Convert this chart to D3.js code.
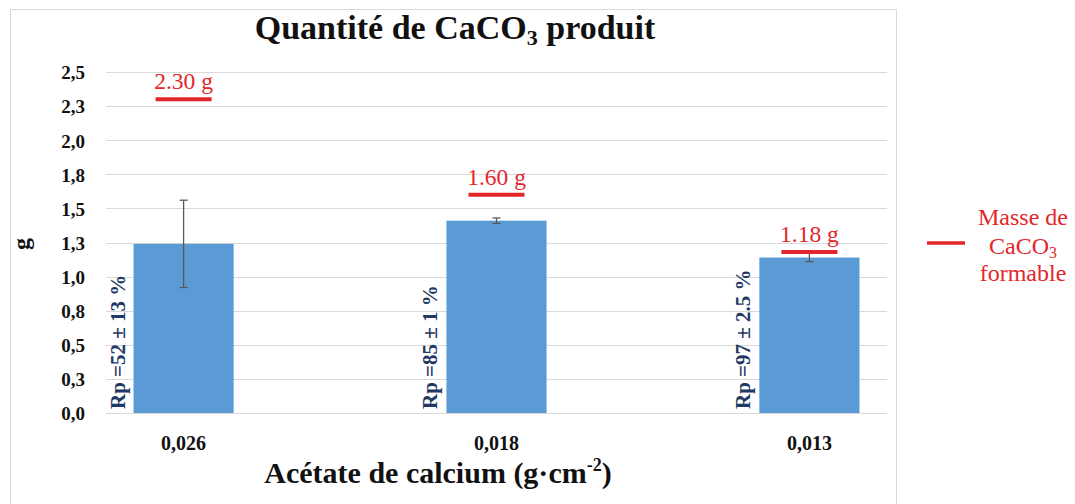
<!DOCTYPE html>
<html>
<head>
<meta charset="utf-8">
<script src="https://cdn.jsdelivr.net/npm/d3@7/dist/d3.min.js"></script>
<style>
  html, body { margin: 0; padding: 0; background: #fff; }
  svg { display: block; }
</style>
</head>
<body>
<svg id="chart" width="1075" height="504"></svg>
<script>
// Calcium acetate loading (x categories)
const categories = ["0,026", "0,018", "0,013"];
// Mean CaCO3 mass obtained (g) and its standard deviation
const produced = [1.24, 1.41, 1.14];
const producedErr = [0.32, 0.02, 0.03];
// Theoretical CaCO3 mass that could be formed (g)
const formable = [2.30, 1.60, 1.18];
const formableLabels = ["2.30 g", "1.60 g", "1.18 g"];
// Yield labels
const yieldLabels = ["Rp =52 ± 13 %", "Rp =85 ± 1 %", "Rp =97 ± 2.5 %"];
// Y axis ticks
const yTicks = [0, 0.25, 0.5, 0.75, 1.0, 1.25, 1.5, 1.75, 2.0, 2.25, 2.5];
const yTickLabels = ["0,0", "0,3", "0,5", "0,8", "1,0", "1,3", "1,5", "1,8", "2,0", "2,3", "2,5"];

const FONT = "Liberation Serif";
const svg = d3.select("#chart").attr("font-family", FONT);
const RED = "#E3262B";
const BLUE = "#5B9BD5";
const NAVY = "#1F3864";

const plot = { left: 106, right: 887, top: 72, bottom: 413 };

const x = d3.scaleBand()
  .domain(categories)
  .range([plot.left, plot.right])
  .paddingInner(0.68)
  .paddingOuter(0.088);

const y = d3.scaleLinear()
  .domain([0, 2.5])
  .range([plot.bottom, plot.top]);

// Chart frame
svg.append("rect")
  .attr("x", 10.5).attr("y", 9.5)
  .attr("width", 886).attr("height", 520)
  .attr("fill", "none")
  .attr("stroke", "#D9D9D9")
  .attr("stroke-width", 1);

// Gridlines
svg.append("g")
  .selectAll("line")
  .data(yTicks)
  .join("line")
  .attr("x1", plot.left).attr("x2", plot.right)
  .attr("y1", d => Math.round(y(d)) + 0.5)
  .attr("y2", d => Math.round(y(d)) + 0.5)
  .attr("stroke", "#D9D9D9")
  .attr("stroke-width", 1.2);

// Y axis labels
const yAxis = d3.axisLeft(y)
  .tickValues(yTicks)
  .tickFormat((d, i) => yTickLabels[i])
  .tickSize(0)
  .tickPadding(0);
const gy = svg.append("g")
  .attr("transform", `translate(85,0)`)
  .call(yAxis)
  .attr("font-family", FONT);
gy.select(".domain").remove();
gy.selectAll("text")
  .attr("font-weight", "bold")
  .attr("font-size", 19)
  .attr("fill", "#111")
  .attr("dy", "0.36em");

// Bars
const idx = categories.map((c, i) => i);
svg.append("g")
  .selectAll("rect")
  .data(idx)
  .join("rect")
  .attr("x", i => x(categories[i]))
  .attr("y", i => y(produced[i]))
  .attr("width", x.bandwidth())
  .attr("height", i => y(0) - y(produced[i]))
  .attr("fill", BLUE);

// Error bars
const eb = svg.append("g").attr("stroke", "#595959").attr("stroke-width", 1.3);
idx.forEach(i => {
  const cx = x(categories[i]) + x.bandwidth() / 2;
  const hi = y(produced[i] + producedErr[i]);
  const lo = y(produced[i] - producedErr[i]);
  eb.append("line").attr("x1", cx).attr("x2", cx).attr("y1", hi).attr("y2", lo);
  eb.append("line").attr("x1", cx - 4).attr("x2", cx + 4).attr("y1", hi).attr("y2", hi);
  eb.append("line").attr("x1", cx - 4).attr("x2", cx + 4).attr("y1", lo).attr("y2", lo);
});

// Formable mass markers
const mark = svg.append("g");
mark.selectAll("line")
  .data(idx)
  .join("line")
  .attr("x1", i => x(categories[i]) + x.bandwidth() / 2 - 28)
  .attr("x2", i => x(categories[i]) + x.bandwidth() / 2 + 28)
  .attr("y1", i => y(formable[i]))
  .attr("y2", i => y(formable[i]))
  .attr("stroke", RED)
  .attr("stroke-width", 4);
mark.selectAll("text")
  .data(idx)
  .join("text")
  .attr("x", i => x(categories[i]) + x.bandwidth() / 2)
  .attr("y", i => y(formable[i]) - 10)
  .attr("text-anchor", "middle")
  .attr("font-family", FONT)
  .attr("font-size", 23.5)
  .attr("fill", RED)
  .text(i => formableLabels[i]);

// Yield labels beside each bar
svg.append("g")
  .selectAll("text")
  .data(idx)
  .join("text")
  .attr("transform", i => `translate(${x(categories[i]) - 9},${y(0) - 4}) rotate(-90)`)
  .attr("text-anchor", "start")
  .attr("font-family", FONT)
  .attr("font-size", 21)
  .attr("font-weight", "bold")
  .attr("fill", NAVY)
  .text(i => yieldLabels[i]);

// X axis labels
const xAxis = d3.axisBottom(x).tickSize(0).tickPadding(0);
const gx = svg.append("g")
  .attr("transform", `translate(0,450)`)
  .call(xAxis)
  .attr("font-family", FONT);
gx.select(".domain").remove();
gx.selectAll("text")
  .attr("font-weight", "bold")
  .attr("font-size", 20)
  .attr("fill", "#111")
  .attr("dy", 0);

// Title
const title = svg.append("text")
  .attr("x", 455).attr("y", 39)
  .attr("text-anchor", "middle")
  .attr("font-family", FONT)
  .attr("font-size", 34)
  .attr("font-weight", "bold")
  .attr("fill", "#111");
title.append("tspan").text("Quantité de CaCO");
title.append("tspan").attr("font-size", 22).attr("dy", 6).text("3");
title.append("tspan").attr("dy", -6).text(" produit");

// Axis titles
const xt = svg.append("text")
  .attr("x", 438).attr("y", 483)
  .attr("text-anchor", "middle")
  .attr("font-family", FONT)
  .attr("font-size", 30)
  .attr("font-weight", "bold")
  .attr("fill", "#111");
xt.append("tspan").text("Acétate de calcium (g·cm");
xt.append("tspan").attr("font-size", 18).attr("dy", -12).text("-2");
xt.append("tspan").attr("dy", 12).text(")");

svg.append("text")
  .attr("transform", "translate(29,244) rotate(-90)")
  .attr("text-anchor", "middle")
  .attr("font-family", FONT)
  .attr("font-size", 24)
  .attr("font-weight", "bold")
  .attr("fill", "#111")
  .text("g");

// Legend
const lg = svg.append("g").attr("font-family", FONT);
lg.append("line")
  .attr("x1", 927).attr("x2", 965)
  .attr("y1", 243).attr("y2", 243)
  .attr("stroke", RED).attr("stroke-width", 3.5);
lg.append("text")
  .attr("x", 1023).attr("y", 225)
  .attr("text-anchor", "middle")
  .attr("font-size", 24)
  .attr("fill", RED)
  .text("Masse de");
const l2 = lg.append("text")
  .attr("x", 1023).attr("y", 254)
  .attr("text-anchor", "middle")
  .attr("font-size", 24)
  .attr("fill", RED);
l2.append("tspan").text("CaCO");
l2.append("tspan").attr("font-size", 16).attr("dy", 4).text("3");
lg.append("text")
  .attr("x", 1023).attr("y", 281)
  .attr("text-anchor", "middle")
  .attr("font-size", 24)
  .attr("fill", RED)
  .text("formable");
</script>
</body>
</html>
